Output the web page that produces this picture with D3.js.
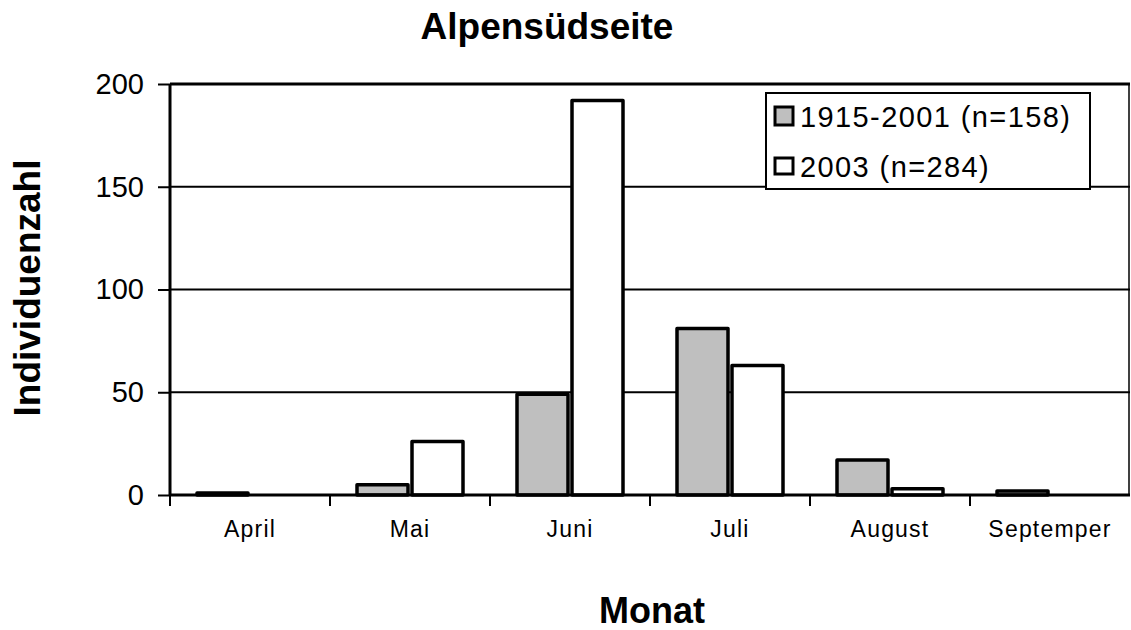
<!DOCTYPE html>
<html><head><meta charset="utf-8">
<script src="https://cdn.jsdelivr.net/npm/d3@7"></script>
<style>
html,body{margin:0;padding:0;background:#fff;}
svg{display:block;font-family:"Liberation Sans",Arial,sans-serif;}
</style></head>
<body><svg id="c" width="1131" height="630"></svg>
<script>
const months = ["April","Mai","Juni","Juli","August","Septemper"];
const series = ["1915-2001 (n=158)","2003 (n=284)"];
const hist = [1,5,49,81,17,2];
const y2003 = [0,26,192,63,3,0];
const yTicks = [0,50,100,150,200];
const colors = ["#bfbfbf","#ffffff"];

const svg = d3.select("#c");
const L=170, R=1130, T=84, B=495;
const x = d3.scaleBand().domain(months).range([L,R]).paddingInner(0.3125).paddingOuter(0.15625);
const xs = d3.scaleBand().domain(series).range([0,x.bandwidth()]);
const y = d3.scaleLinear().domain([0,200]).range([B,T]);

// gridlines
svg.append("g").selectAll("line").data(yTicks.filter(v=>v>0 && v<200)).join("line")
  .attr("x1",L).attr("x2",R).attr("y1",d=>y(d)).attr("y2",d=>y(d))
  .attr("stroke","#000").attr("stroke-width",2);
// frame top/right
svg.append("line").attr("x1",L).attr("x2",R).attr("y1",y(200)).attr("y2",y(200)).attr("stroke","#000").attr("stroke-width",3);
svg.append("line").attr("x1",R-1).attr("x2",R-1).attr("y1",T).attr("y2",B).attr("stroke","#000").attr("stroke-width",1.5);

// bars
const data = months.map((m,i)=>({m, vals:[hist[i], y2003[i]]}));
const g = svg.append("g").selectAll("g").data(data).join("g").attr("transform",d=>`translate(${x(d.m)},0)`);
g.selectAll("rect").data(d=>d.vals.map((v,j)=>({v,s:series[j],j}))).join("rect")
  .attr("x",d=>xs(d.s)+2).attr("width",xs.bandwidth()-4)
  .attr("y",d=>y(d.v)).attr("height",d=>B-y(d.v))
  .attr("fill",d=>colors[d.j]).attr("stroke","#000").attr("stroke-width",3.5)
  .attr("stroke-linejoin","round");

// y axis
const ya = svg.append("g").attr("transform",`translate(${L},0)`)
  .call(d3.axisLeft(y).tickValues(yTicks).tickSize(12).tickPadding(14).tickFormat(d3.format("d")));
ya.select(".domain").attr("stroke-width",3).attr("d",`M0,${T}V${B}`);
ya.selectAll(".tick line").attr("stroke-width",2);
ya.selectAll(".tick text").attr("font-size",29).attr("fill","#000").attr("font-family","Liberation Sans, Arial, sans-serif");

// x axis
const xa = svg.append("g").attr("transform",`translate(0,${B})`)
  .call(d3.axisBottom(x).tickSize(0).tickPadding(26));
xa.select(".domain").attr("stroke-width",3).attr("d",`M${L},0H${R}`);
xa.selectAll(".tick text").attr("font-size",23).attr("letter-spacing","1.2px").attr("fill","#000")
  .attr("font-family","Liberation Sans, Arial, sans-serif");
// category boundary ticks
const bounds = months.map(m=>x(m)-x.step()*x.paddingInner()/2);
svg.append("g").selectAll("line").data(bounds).join("line")
  .attr("x1",d=>d).attr("x2",d=>d).attr("y1",B).attr("y2",B+11)
  .attr("stroke","#000").attr("stroke-width",2);

// title & labels
svg.append("text").attr("x",547).attr("y",39).attr("text-anchor","middle")
  .attr("font-size",37).attr("font-weight","bold").text("Alpensüdseite");
svg.append("text").attr("transform","translate(40,288) rotate(-90)").attr("text-anchor","middle")
  .attr("font-size",37).attr("font-weight","bold").text("Individuenzahl");
svg.append("text").attr("x",652).attr("y",623).attr("text-anchor","middle")
  .attr("font-size",36).attr("font-weight","bold").text("Monat");

// legend
const lg = svg.append("g");
lg.append("rect").attr("x",766).attr("y",93).attr("width",324).attr("height",96)
  .attr("fill","#fff").attr("stroke","#000").attr("stroke-width",2);
const items = lg.selectAll("g").data(series).join("g")
  .attr("transform",(d,i)=>`translate(0,${i*50})`);
items.append("rect").attr("x",775).attr("y",(d,i)=>107+i*1).attr("width",18).attr("height",(d,i)=>18-i*2)
  .attr("fill",(d,i)=>colors[i]).attr("stroke","#000").attr("stroke-width",3);
items.append("text").attr("x",800).attr("y",127).attr("font-size",29).attr("letter-spacing","1.4px")
  .attr("fill","#000").text(d=>d);
</script></body></html>
